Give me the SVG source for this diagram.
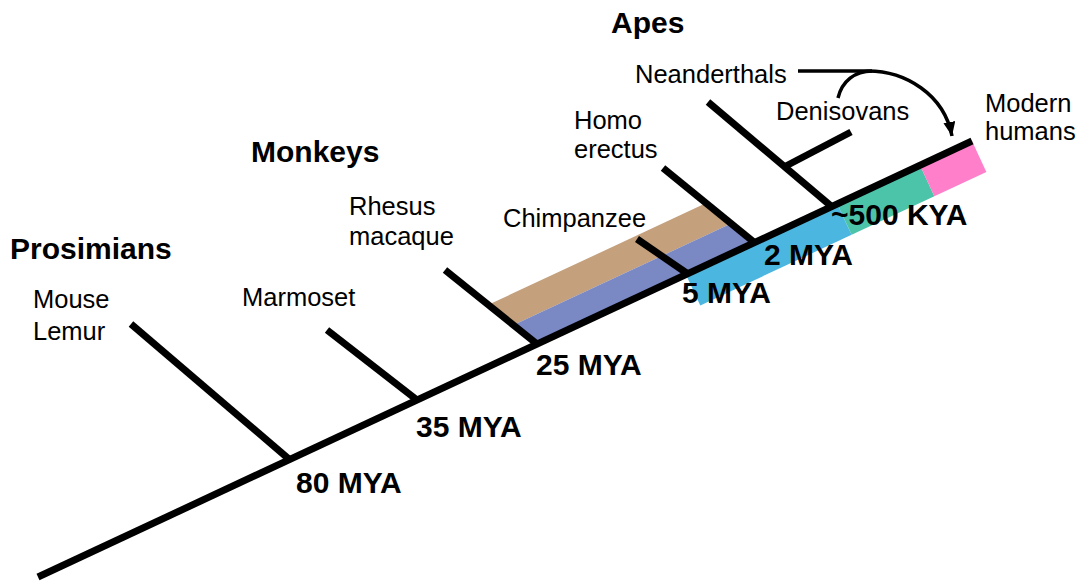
<svg xmlns="http://www.w3.org/2000/svg" width="1079" height="582" viewBox="0 0 1079 582">
<style>
.lbl{font-family:"Liberation Sans",Arial,sans-serif;font-size:25.5px;fill:#000}
.hdr{font-family:"Liberation Sans",Arial,sans-serif;font-size:30px;font-weight:bold;fill:#000}
.age{font-family:"Liberation Sans",Arial,sans-serif;font-size:30px;font-weight:bold;fill:#000}
.br{stroke:#000;stroke-width:7;fill:none;stroke-linecap:butt}
.arr{stroke:#000;stroke-width:3.5;fill:none}
</style>
<defs>
<marker id="ah" markerUnits="userSpaceOnUse" markerWidth="16" markerHeight="14" refX="14" refY="6" orient="auto">
<path d="M0,0 L14,6 L0,12 z" fill="#000"/>
</marker>
</defs>
<rect width="1079" height="582" fill="#fff"/>
<g id="bands">
<polygon points="488.3,304.8 706.2,203.1 731.2,223.5 513.5,325.1" fill="#C4A07C"/>
<polygon points="513.5,325.1 731.2,223.5 754.6,242.5 537.1,344" fill="#7A88C4"/>
<g transform="rotate(-25.02 38 577)">
<rect x="753" y="577" width="167" height="34" fill="#4BB6DF"/>
<rect x="920" y="577" width="91.3" height="34" fill="#4CC4AA"/>
<rect x="1011.3" y="577" width="57.4" height="34" fill="#FF7FCB"/>
</g>
</g>
<g id="connectors">
<line class="br" x1="38" y1="577" x2="972" y2="141"/>
<line class="br" x1="131" y1="324" x2="290" y2="460"/>
<line class="br" x1="327" y1="330" x2="417" y2="400"/>
<line class="br" x1="445" y1="270" x2="537" y2="344"/>
<line class="br" x1="637" y1="239" x2="688" y2="274"/>
<line class="br" x1="663" y1="168" x2="755" y2="243"/>
<line class="br" x1="708" y1="102" x2="831" y2="206"/>
<line class="br" x1="784" y1="167" x2="851" y2="132"/>
<path class="arr" d="M798,71 L868,71 C905,71 944,94 952,136" marker-end="url(#ah)"/>
<path class="arr" d="M838,98 C842,81 855,71 872,71"/>
</g>
<g id="prosimians"><text class="hdr" x="10" y="259">Prosimians</text></g>
<g id="monkeys"><text class="hdr" x="251" y="162">Monkeys</text></g>
<g id="apes"><text class="hdr" x="611" y="33">Apes</text></g>
<g id="mouse-lemur"><text class="lbl" x="33" y="308">Mouse</text><text class="lbl" x="33" y="340">Lemur</text></g>
<g id="marmoset"><text class="lbl" x="242" y="306">Marmoset</text></g>
<g id="rhesus-macaque"><text class="lbl" x="349" y="215">Rhesus</text><text class="lbl" x="349" y="245">macaque</text></g>
<g id="chimpanzee"><text class="lbl" x="503" y="227">Chimpanzee</text></g>
<g id="homo-erectus"><text class="lbl" x="574" y="129">Homo</text><text class="lbl" x="574" y="158">erectus</text></g>
<g id="neanderthals"><text class="lbl" x="635" y="83">Neanderthals</text></g>
<g id="denisovans"><text class="lbl" x="776" y="120">Denisovans</text></g>
<g id="modern-humans"><text class="lbl" x="985" y="112">Modern</text><text class="lbl" x="985" y="140">humans</text></g>
<g id="ages">
<text class="age" x="296" y="493">80 MYA</text>
<text class="age" x="416" y="437">35 MYA</text>
<text class="age" x="536" y="375">25 MYA</text>
<text class="age" x="682" y="303">5 MYA</text>
<text class="age" x="764" y="265">2 MYA</text>
<text class="age" x="831" y="225">~500 KYA</text>
</g>
</svg>
